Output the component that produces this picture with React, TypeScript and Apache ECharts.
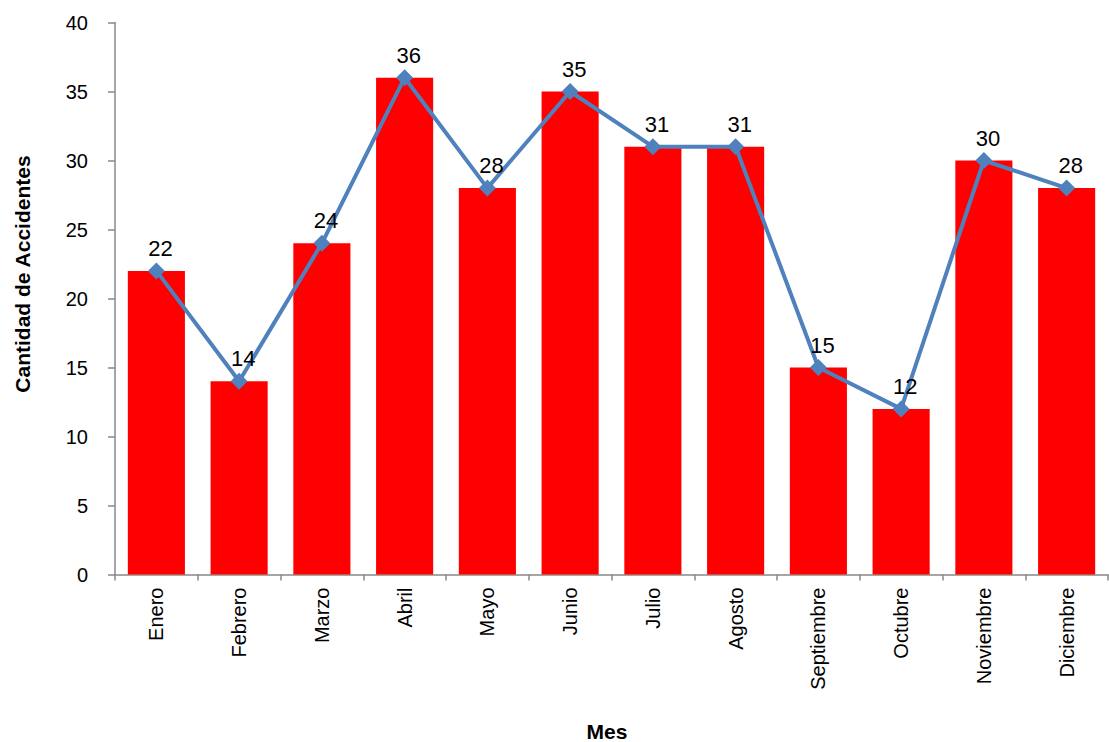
import React, { useEffect, useRef } from "react";
import * as echarts from "echarts";

const months = ["Enero", "Febrero", "Marzo", "Abril", "Mayo", "Junio", "Julio", "Agosto", "Septiembre", "Octubre", "Noviembre", "Diciembre"];
const accidents = [22, 14, 24, 36, 28, 35, 31, 31, 15, 12, 30, 28];
const yTicks = { min: 0, max: 40, interval: 5 };
const xTitle = "Mes";
const yTitle = "Cantidad de Accidentes";

export default function App() {
  const ref = useRef<HTMLDivElement>(null);
  useEffect(() => {
    document.body.style.margin = "0";
    const chart = echarts.init(ref.current!, null, { renderer: "svg" });
    const font = "Liberation Sans, Arial, sans-serif";
    chart.setOption({
      animation: false,
      textStyle: { fontFamily: font },
      grid: { left: 115, top: 22.5, right: 1, bottom: 167.5, containLabel: false, outerBoundsMode: "none" },
      graphic: [
        {
          type: "text",
          x: 607,
          y: 731,
          style: { text: xTitle, fontFamily: font, fontSize: 21, fontWeight: "bold", fill: "#000", align: "center", verticalAlign: "middle" },
        },
        {
          type: "text",
          x: 22,
          y: 274,
          rotation: Math.PI / 2,
          style: { text: yTitle, fontFamily: font, fontSize: 21, fontWeight: "bold", fill: "#000", align: "center", verticalAlign: "middle" },
        },
      ],
      xAxis: {
        type: "category",
        data: months,
        axisLine: { lineStyle: { color: "#888", width: 1.5 } },
        axisTick: { show: true, length: 6, lineStyle: { color: "#888", width: 1.5 } },
        axisLabel: { rotate: 90, margin: 13, fontSize: 20, color: "#000", fontFamily: font, interval: 0 },
      },
      yAxis: {
        type: "value",
        min: yTicks.min,
        max: yTicks.max,
        interval: yTicks.interval,
        axisLine: { show: true, lineStyle: { color: "#888", width: 1.5 } },
        axisTick: { show: true, length: 7, lineStyle: { color: "#888", width: 1.5 } },
        axisLabel: { margin: 27, fontSize: 20, color: "#000", fontFamily: font },
        splitLine: { show: false },
      },
      series: [
        {
          type: "bar",
          data: accidents,
          barWidth: "69%",
          itemStyle: { color: "#FF0000" },
          z: 1,
        },
        {
          type: "line",
          data: accidents,
          symbol: "diamond",
          symbolSize: 17,
          lineStyle: { color: "#4F81BD", width: 4 },
          itemStyle: { color: "#4F81BD" },
          label: { show: true, position: "top", distance: 3, fontSize: 22, color: "#000", fontFamily: font, offset: [4, 0] },
          z: 3,
        },
      ],
    });
    return () => chart.dispose();
  }, []);
  return <div ref={ref} style={{ width: 1109, height: 742 }} />;
}
